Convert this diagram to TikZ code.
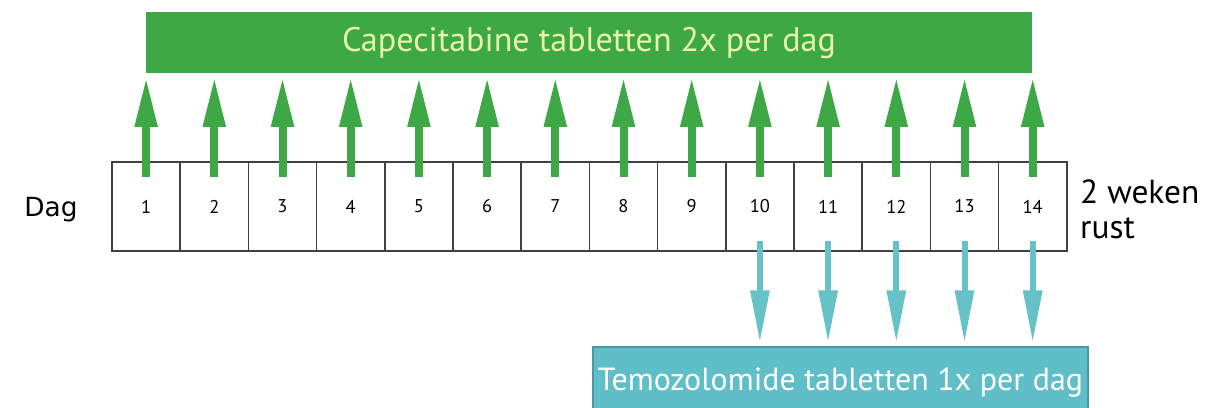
\documentclass[tikz,border=0pt]{standalone}
\usepackage{fontspec}
\setmainfont{PT Sans}
\newfontfamily\dagfont{DejaVu Sans}
\usepackage{xcolor}
\usepackage{tikz}
\usetikzlibrary{arrows.meta}

\definecolor{capgreen}{HTML}{3EA846}
\definecolor{captext}{HTML}{E8F4A8}
\definecolor{temcyan}{HTML}{5FBEC8}
\definecolor{temline}{HTML}{4A9AA6}
\definecolor{temarrow}{HTML}{66C2C6}

\tikzset{
	daycell/.style={draw=black!75, line width=0.9pt, minimum width=68.2*0.02cm, minimum height=89*0.02cm, inner sep=0pt, font=\fontsize{10.5}{12}\selectfont},
	caparrow/.style={draw=capgreen, line width=0.16cm, -{Triangle[length=1cm, width=0.42cm]}, shorten >=2pt},
	temarrowstyle/.style={draw=temarrow, line width=0.12cm, -{Triangle[length=1.05cm, width=0.36cm]}, shorten >=2pt}
}

\begin{document}
\begin{tikzpicture}[x=0.02cm, y=0.02cm]

\useasboundingbox (0,0) rectangle (1214,407);

\def \w {68.2}

% bars
\node[fill=capgreen, minimum width=886*0.02cm, minimum height=61*0.02cm, inner sep=0pt, text=captext, font=\fontsize{19.4}{22}\selectfont] (capbar) at (589,364.5) {Capecitabine tabletten 2x per dag};
\node[fill=temcyan, draw=temline, line width=0.6pt, minimum width=495*0.02cm, minimum height=70*0.02cm, inner sep=0pt, text=white, font=\fontsize{18.2}{22}\selectfont] (tembar) at (840.5,25) {Temozolomide tabletten 1x per dag};

% dagen
\foreach \i in {1,...,14}{
	\node[daycell] (day\i) at (112+\w*\i-\w/2, 200.5) {\i};
}

\node[font=\dagfont\fontsize{15}{16}\selectfont] (dag) at (51,197) {Dag};
\node[anchor=west, align=left, font=\fontsize{19}{20}\selectfont] (rust) at (1074,198) {2 weken\\rust};

\foreach \i in {1,...,14}{
	\draw[caparrow] ([yshift=-0.32cm]day\i.north) -- (day\i |- capbar.south);
}

\foreach \i in {10,...,14}{
	\draw[temarrowstyle] ([yshift=0.22cm]day\i.south) -- (day\i |- tembar.north);
}

\end{tikzpicture}
\end{document}
